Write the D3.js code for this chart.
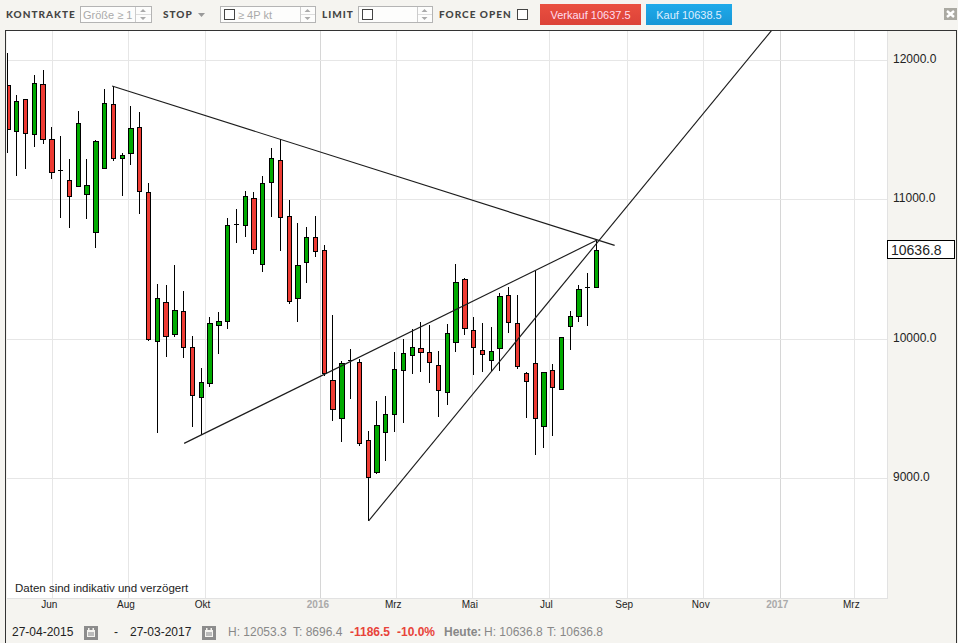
<!DOCTYPE html>
<html>
<head>
<meta charset="utf-8">
<script src="https://cdn.jsdelivr.net/npm/d3@7"></script>
<style>
html,body{margin:0;padding:0;background:#f5f4f0;overflow:hidden}
svg{display:block}
text{font-family:"Liberation Sans",Arial,sans-serif}
.hl{font-family:Lato,sans-serif;font-weight:900;font-size:10px;letter-spacing:1px;fill:#444}
</style>
</head>
<body>
<svg id="c" width="958" height="643"></svg>
<script>
const opens = [11822,11499,11721,11467,11829,11434,11212,11140,11097,11039,10767,11230,11686,11298,11331,11520,11054,9984,10264,10034,10199,9941,9582,9683,10099,10128,10826,10817,11015,10537,11126,11283,10881,10293,10551,10731,10637,9704,9431,9850,9833,9273,9044,9331,9460,9776,9884,9934,9905,9812,9618,9977,10429,10063,9919,9848,9934,10314,10113,9759,9826,9374,9776,9640,10092,10164,10374,10372];
const closes = [11506,11711,11477,11836,11434,11197,11212,11025,11549,11104,11420,11693,11302,11319,11513,11058,9998,10293,10020,10207,9941,9596,9690,10113,10128,10817,10826,11025,10652,11118,11298,10871,10268,10530,10731,10630,9752,9496,9826,9850,9252,9008,9381,9460,9783,9898,9941,9905,9833,9632,10042,10408,10077,9941,9891,9912,10307,10121,9805,9704,9431,9762,9654,10013,10164,10357,10374,10637];
const highs = [12053,11752,11721,11896,11932,11520,11458,11291,11637,11295,11429,11793,11817,11338,11675,11628,11118,10393,10388,10530,10343,10022,9792,10156,10194,10867,10932,11063,11058,11169,11370,11434,10998,10836,10805,10884,10673,10171,9843,9931,9855,9340,9558,9591,9905,10001,10070,10121,10099,9914,10108,10537,10436,10156,10113,10087,10329,10376,10319,9762,10491,9762,9819,10013,10202,10388,10477,10711];
const lows = [11333,11171,11219,11381,11400,11151,10867,10800,11092,10860,10656,11219,11281,11029,11250,10896,9988,9324,9869,10017,9862,9371,9311,9654,9895,10075,10688,10731,10611,10479,10874,10634,10250,10125,10405,10591,9735,9414,9259,9568,9233,8696,9029,9127,9335,9400,9751,9762,9683,9443,9527,9909,10029,9740,9766,9773,9773,10042,9783,9436,9168,9216,9306,9640,9922,10123,10096,10372];
const trendWeeks = [[11.8,69],[20,67],[41,87]];
const trendPrices = [[11817,10673],[9252,10711],[8696,12226]];
const priceTicks = [12000,11000,10000,9000];
const timeTickDates = ["2015-06-01","2015-08-01","2015-10-01","2016-01-01","2016-03-01","2016-05-01","2016-07-01","2016-09-01","2016-11-01","2017-01-01","2017-03-01"];
const timeTickLabels = ["Jun","Aug","Okt","2016","Mrz","Mai","Jul","Sep","Nov","2017","Mrz"];
const lastPrice = 10636.8;

const svg = d3.select("#c");
const plot = {l:7,r:887,t:31,b:598};
const start = new Date(Date.UTC(2015,3,27));
const end = new Date(Date.UTC(2017,2,27));
const weekDate = i => new Date(start.getTime()+i*7*864e5);
const x = d3.scaleUtc().domain([start,end]).range([8.4,887]);
const y = d3.scaleLinear().domain([12000,9000]).range([60.5,478.5]);
const tickDates = timeTickDates.map(d=>new Date(d+"T00:00:00Z"));
const labelOf = d => timeTickLabels[tickDates.findIndex(t=>t.getTime()===d.getTime())];

// frame
svg.append("rect").attr("x",plot.l).attr("y",plot.t).attr("width",plot.r-plot.l).attr("height",plot.b-plot.t).attr("fill","#fff");
const frame = svg.append("g").attr("stroke","#333").attr("shape-rendering","crispEdges");
frame.append("line").attr("x1",5.5).attr("x2",5.5).attr("y1",30).attr("y2",643);
frame.append("line").attr("x1",5).attr("x2",957).attr("y1",30.5).attr("y2",30.5);
frame.append("line").attr("x1",956.5).attr("x2",956.5).attr("y1",30).attr("y2",643);

// grid
const gx = svg.append("g").attr("transform",`translate(0,${plot.b})`)
  .call(d3.axisBottom(x).offset(0).tickValues(tickDates).tickSize(-(plot.b-plot.t)).tickFormat(""));
gx.select(".domain").remove();
gx.selectAll("line").attr("stroke",d=>d.getUTCMonth()===0?"#d6d6d6":"#e6e6e6").attr("shape-rendering","crispEdges");
const gy = svg.append("g").attr("transform",`translate(${plot.r},0)`)
  .call(d3.axisLeft(y).offset(0).tickValues(priceTicks).tickSize(plot.r-plot.l).tickFormat(""));
gy.select(".domain").remove();
gy.selectAll("line").attr("stroke","#e6e6e6").attr("shape-rendering","crispEdges");
const edge = svg.append("g").attr("stroke","#e2e2e2").attr("shape-rendering","crispEdges");
edge.append("line").attr("x1",plot.l).attr("x2",plot.r+1).attr("y1",plot.b+.5).attr("y2",plot.b+.5);
edge.append("line").attr("x1",plot.r+.5).attr("x2",plot.r+.5).attr("y1",plot.t).attr("y2",plot.b);

// axis labels
const ax = svg.append("g").attr("transform",`translate(-3,${plot.b})`)
  .call(d3.axisBottom(x).offset(0).tickValues(tickDates).tickSize(0).tickPadding(3).tickFormat(labelOf));
ax.select(".domain").remove();
ax.selectAll("text").attr("font-size",10).style("font-family",'"Liberation Sans"')
  .attr("fill",d=>d.getUTCMonth()===0?"#aaa":"#222").attr("font-weight",d=>d.getUTCMonth()===0?"bold":"normal");
const ay = svg.append("g").attr("transform",`translate(${plot.r+6},-1.5)`)
  .call(d3.axisRight(y).offset(0).tickValues(priceTicks).tickSize(0).tickPadding(0).tickFormat(d3.format(".1f")));
ay.select(".domain").remove();
ay.selectAll("text").attr("font-size",12).attr("fill","#222").style("font-family",'"Liberation Sans"');

// candles
const idx = d3.range(opens.length);
const cg = svg.append("g").attr("shape-rendering","crispEdges");
const cx = i => x(weekDate(i))-0.4;
const px = i => Math.floor(cx(i)-0.1);
const bl = i => Math.max(Math.round(cx(i)-2.65),7);
const br = i => Math.round(cx(i)+2.65);
cg.selectAll(".w").data(idx).join("line").attr("class","w")
  .attr("x1",i=>px(i)+.5).attr("x2",i=>px(i)+.5)
  .attr("y1",i=>y(highs[i])).attr("y2",i=>y(lows[i])).attr("stroke","#000");
cg.selectAll(".b").data(idx.filter(i=>opens[i]!==closes[i])).join("rect").attr("class","b")
  .attr("x",i=>bl(i)+.5).attr("width",i=>br(i)-bl(i)-1)
  .attr("y",i=>Math.round(y(Math.max(opens[i],closes[i])))+.5)
  .attr("height",i=>Math.max(1,Math.round(Math.abs(y(opens[i])-y(closes[i])))))
  .attr("fill",i=>closes[i]>opens[i]?"#00aa00":"#ee3b33").attr("stroke","#000");
cg.selectAll(".d").data(idx.filter(i=>opens[i]===closes[i])).join("line").attr("class","d")
  .attr("x1",i=>px(i)-2).attr("x2",i=>px(i)+3)
  .attr("y1",i=>Math.round(y(opens[i]))+.5).attr("y2",i=>Math.round(y(opens[i]))+.5).attr("stroke","#000");

// trend lines
const clipId="pc";
svg.append("clipPath").attr("id",clipId).append("rect").attr("x",plot.l).attr("y",plot.t).attr("width",plot.r-plot.l).attr("height",plot.b-plot.t);
const line = d3.line().x(d=>x(weekDate(d[0]))).y(d=>y(d[1]));
svg.append("g").attr("clip-path",`url(#${clipId})`).selectAll("path")
  .data(trendWeeks.map((w,k)=>w.map((v,j)=>[v,trendPrices[k][j]]))).join("path")
  .attr("d",line).attr("fill","none").attr("stroke","#1c1c1c").attr("stroke-width",1.15);

// last price
svg.append("rect").attr("x",887.5).attr("y",240.5).attr("width",67).attr("height",18).attr("fill","#fff").attr("stroke","#000").attr("shape-rendering","crispEdges");
svg.append("text").attr("x",891).attr("y",y(lastPrice)+5).attr("font-size",14).attr("fill","#222").text(lastPrice.toFixed(1));

svg.append("text").attr("x",15).attr("y",592).attr("font-size",11.5).attr("fill","#222").text("Daten sind indikativ und verzögert");

// toolbar
const hl=(t,xp)=>svg.append("text").attr("class","hl").attr("x",xp).attr("y",18).text(t);
hl("KONTRAKTE",6);hl("STOP",163);hl("LIMIT",322);hl("FORCE OPEN",439);
function box(x0,x1,div,ph,phx,chk){
  svg.append("rect").attr("x",x0+.5).attr("y",6.5).attr("width",x1-x0).attr("height",16).attr("fill","#fdfdfc").attr("stroke","#b4b4b4").attr("shape-rendering","crispEdges");
  svg.append("line").attr("x1",div+.5).attr("x2",div+.5).attr("y1",7).attr("y2",22).attr("stroke","#ccc");
  const c=(div+x1)/2;
  svg.append("path").attr("d",`M${c-3},12 L${c+3},12 L${c},9 Z M${c-3},17 L${c+3},17 L${c},20 Z`).attr("fill","#aaa");
  svg.append("line").attr("x1",div+1).attr("x2",x1).attr("y1",14.5).attr("y2",14.5).attr("stroke","#ddd");
  if(chk) svg.append("rect").attr("x",x0+4.5).attr("y",9.5).attr("width",10).attr("height",10).attr("fill","#fff").attr("stroke","#444").attr("shape-rendering","crispEdges");
  if(ph) svg.append("text").attr("x",phx).attr("y",18.5).attr("font-size",11).attr("fill","#aaa").text(ph);
}
box(80,151,135,"Größe ≥ 1",83,false);
box(220,315,300,"≥ 4P kt",238,true);
box(358,432,417,"",0,true);
svg.append("path").attr("d","M198,13 L205,13 L201.5,17 Z").attr("fill","#999");
svg.append("rect").attr("x",517.5).attr("y",9.5).attr("width",10).attr("height",10).attr("fill","#fff").attr("stroke","#444").attr("shape-rendering","crispEdges");
const defs=svg.append("defs");
const grad=(id,a,b)=>{const g=defs.append("linearGradient").attr("id",id).attr("x1",0).attr("x2",0).attr("y1",0).attr("y2",1);g.append("stop").attr("offset",0).attr("stop-color",a);g.append("stop").attr("offset",1).attr("stop-color",b);};
grad("gr","#ea5040","#dc4238");grad("gb","#1eaaea","#1896d6");
svg.append("rect").attr("x",540).attr("y",4).attr("width",101).attr("height",21).attr("fill","url(#gr)");
svg.append("text").attr("x",590.5).attr("y",18.5).attr("text-anchor","middle").attr("font-size",11).attr("fill","#fde").text("Verkauf 10637.5");
svg.append("rect").attr("x",646).attr("y",4).attr("width",86).attr("height",21).attr("fill","url(#gb)");
svg.append("text").attr("x",689).attr("y",18.5).attr("text-anchor","middle").attr("font-size",11).attr("fill","#def").text("Kauf 10638.5");
svg.append("rect").attr("x",944).attr("y",8).attr("width",13).attr("height",12).attr("fill","#aaa9a2");
svg.append("path").attr("d","M947,11 L954,17 M954,11 L947,17").attr("stroke","#fff").attr("stroke-width",2.4);

// footer
const ft=(t,xp,fill,bold)=>svg.append("text").attr("x",xp).attr("y",636).attr("font-size",12).attr("fill",fill).attr("font-weight",bold?"bold":"normal").text(t);
ft("27-04-2015",12,"#222");ft("-",114,"#222");ft("27-03-2017",130,"#222");
ft("H: 12053.3",228,"#888");ft("T: 8696.4",293,"#888");ft("-1186.5",350,"#e8433a",true);ft("-10.0%",397,"#e8433a",true);
ft("Heute:",444,"#888",true);ft("H: 10636.8",484,"#888");ft("T: 10636.8",547,"#888");
[84,202].forEach(x0=>{
  svg.append("rect").attr("x",x0).attr("y",626).attr("width",14).attr("height",14).attr("fill","#8c8c8c");
  svg.append("rect").attr("x",x0+3).attr("y",630).attr("width",8).attr("height",7).attr("fill","#f5f4f0");
  svg.append("rect").attr("x",x0+4).attr("y",632).attr("width",6).attr("height",4).attr("fill","#bbb");
  svg.append("rect").attr("x",x0+4).attr("y",628).attr("width",1.5).attr("height",2.5).attr("fill","#f5f4f0");
  svg.append("rect").attr("x",x0+8.5).attr("y",628).attr("width",1.5).attr("height",2.5).attr("fill","#f5f4f0");
});
</script>
</body>
</html>
